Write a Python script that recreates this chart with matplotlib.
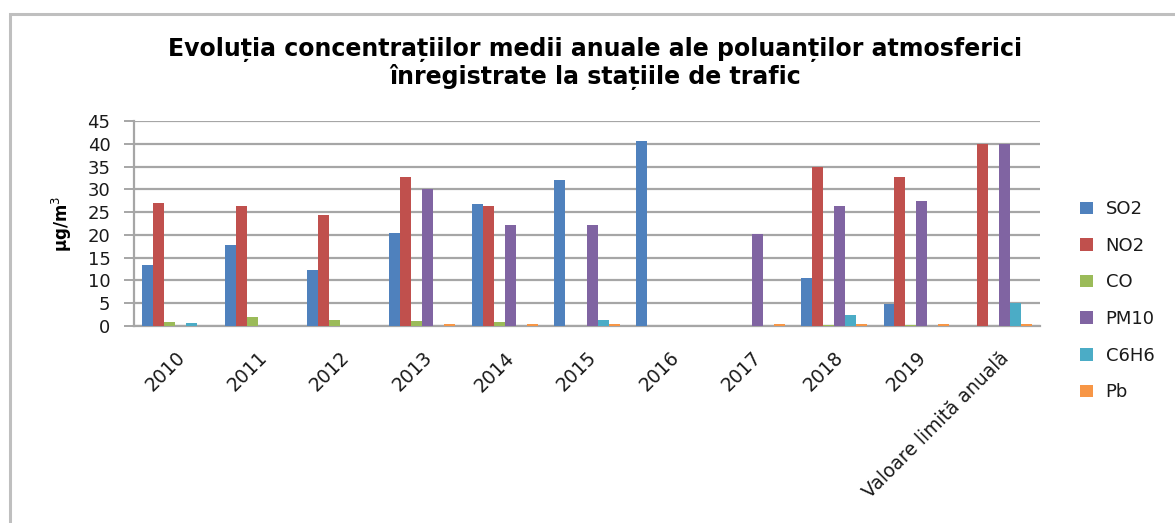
import matplotlib
matplotlib.use("Agg")
import matplotlib.pyplot as plt
import matplotlib.patches as mpatches
import numpy as np

categories = ["2010", "2011", "2012", "2013", "2014", "2015", "2016", "2017",
              "2018", "2019", "Valoare limită anuală"]
series_names = ["SO2", "NO2", "CO", "PM10", "C6H6", "Pb"]
so2 = [13.5, 17.8, 12.3, 20.5, 26.7, 32.0, 40.7, 0, 10.6, 4.8, 0]
no2 = [27.1, 26.3, 24.4, 32.6, 26.4, 0, 0, 0, 35.0, 32.6, 40.0]
co = [0.9, 2.0, 1.3, 1.2, 0.9, 0, 0, 0, 0.3, 0.3, 0]
pm10 = [0, 0, 0, 30.1, 22.1, 22.1, 0, 20.2, 26.3, 27.5, 40.0]
c6h6 = [0.6, 0, 0, 0, 0, 1.3, 0, 0, 2.4, 0, 5.1]
pb = [0, 0, 0, 0.5, 0.5, 0.5, 0, 0.5, 0.5, 0.5, 0.5]
yticks = [0, 5, 10, 15, 20, 25, 30, 35, 40, 45]

colors = ["#4F81BD", "#C0504D", "#9BBB59", "#8064A2", "#4BACC6", "#F79646"]
values = [so2, no2, co, pm10, c6h6, pb]

plt.rcParams["font.family"] = ["DejaVu Sans"]

W, H = 1175, 523
fig = plt.figure(figsize=(W / 100, H / 100), dpi=100)
fig.patch.set_facecolor("white")

# outer chart frame
fig.patches.append(mpatches.Rectangle((10 / W, -0.2), 1.3, 1.2 - 14 / H,
                                      transform=fig.transFigure, fill=False,
                                      edgecolor="#bfbfbf", linewidth=2.2))

ax = fig.add_axes([134 / W, 1 - 326 / H, (1040 - 134) / W, (326 - 121) / H])

n = len(series_names)
bw = 1 / 7.5
x = np.arange(len(categories))
for j, (name, vals, c) in enumerate(zip(series_names, values, colors)):
    ax.bar(x + (j - (n - 1) / 2) * bw, vals, width=bw, color=c, label=name,
           zorder=3, linewidth=0)

ax.set_xlim(-0.5, len(categories) - 0.5)
ax.set_ylim(0, 45)
ax.set_yticks(yticks)
ax.set_yticklabels([str(v) for v in yticks], fontsize=13, color="#1a1a1a")
ax.yaxis.grid(True, color="#a6a6a6", linewidth=1.6, zorder=0)
ax.set_axisbelow(True)
for s in ["top", "right"]:
    ax.spines[s].set_visible(False)
ax.spines["left"].set_color("#a6a6a6")
ax.spines["left"].set_linewidth(1.6)
ax.spines["bottom"].set_color("#a6a6a6")
ax.spines["bottom"].set_linewidth(1.6)
ax.tick_params(axis="y", length=7, width=1.4, color="#a6a6a6", pad=10)
ax.tick_params(axis="x", length=0, pad=16)
ax.set_xticks(x)
ax.set_xticklabels(categories, rotation=45, ha="right", rotation_mode="anchor",
                   fontsize=13.5, color="#1a1a1a")

ax.set_ylabel("µg/m$^3$", fontsize=12, fontweight="bold", labelpad=10)

fig.text(595 / W, 1 - 49 / H,
         "Evoluția concentrațiilor medii anuale ale poluanților atmosferici",
         ha="center", va="center", fontsize=17, fontweight="bold")
fig.text(595 / W, 1 - 77 / H, "înregistrate la stațiile de trafic",
         ha="center", va="center", fontsize=17, fontweight="bold")

leg = fig.legend(loc="upper left", bbox_to_anchor=(1064 / W, 1 - 184 / H),
                 frameon=False, fontsize=13, labelspacing=1.03,
                 handlelength=0.7, handleheight=0.7, handletextpad=0.7)
for t in leg.get_texts():
    t.set_color("#1a1a1a")

fig.savefig("out.png", dpi=100, facecolor="white")
